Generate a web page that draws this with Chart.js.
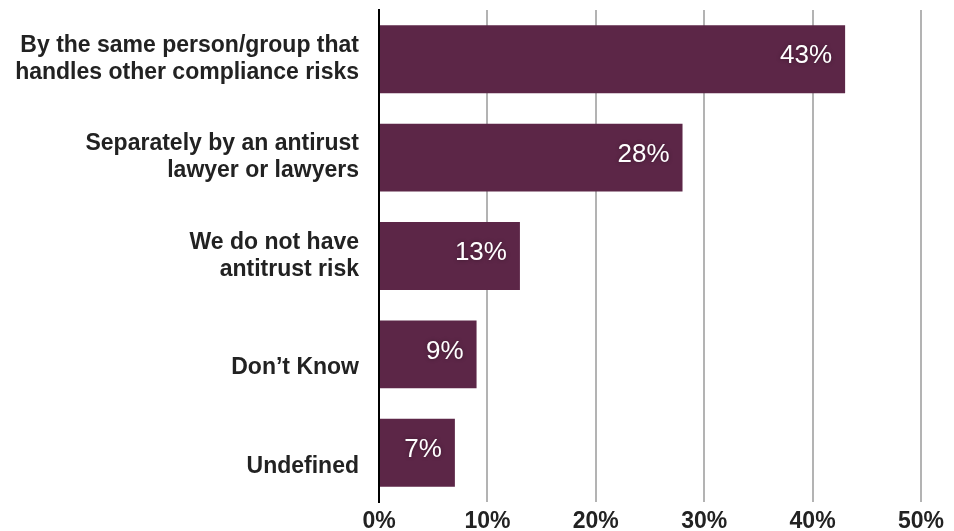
<!DOCTYPE html>
<html>
<head>
<meta charset="utf-8">
<script src="https://cdn.jsdelivr.net/npm/chart.js@4"></script>
<style>
  html, body { margin: 0; padding: 0; background: #fff; }
  #wrap { width: 954px; height: 531px; }
</style>
</head>
<body>
<div id="wrap"><canvas id="myChart"></canvas></div>
<script>
// single-line labels sit on the lower line of a two-line box
const categories = [
    ['By the same person/group that', 'handles other compliance risks'],
    ['Separately by an antirust', 'lawyer or lawyers'],
    ['We do not have', 'antitrust risk'],
    ['', 'Don\u2019t Know'],
    ['', 'Undefined']
];
const shares = [43, 28, 13, 9, 7];
const xTicks = [0, 10, 20, 30, 40, 50];

const barColor = '#5c2647';
const textColor = '#222222';
const fontFamily = '"Liberation Sans", Arial, sans-serif';

// white value labels near the end of each bar
const valueLabels = {
    id: 'valueLabels',
    afterDatasetsDraw(chart) {
        const ctx = chart.ctx;
        const meta = chart.getDatasetMeta(0);
        ctx.save();
        ctx.fillStyle = '#ffffff';
        ctx.font = '26px ' + fontFamily;
        ctx.textAlign = 'right';
        ctx.textBaseline = 'middle';
        ctx.shadowColor = 'rgba(0, 0, 0, 0.35)';
        ctx.shadowBlur = 4;
        meta.data.forEach((bar, i) => {
            ctx.fillText(shares[i] + '%', bar.x - 13, bar.y - 3);
        });
        ctx.restore();
    }
};

const ctx = document.getElementById('myChart').getContext('2d');
const myChart = new Chart(ctx, {
    type: 'bar',
    data: {
        labels: categories,
        datasets: [{
            data: shares,
            backgroundColor: barColor,
            borderWidth: 0,
            barPercentage: 0.69,
            categoryPercentage: 1
        }]
    },
    options: {
        indexAxis: 'y',
        responsive: true,
        maintainAspectRatio: false,
        animation: false,
        layout: { padding: { top: 10, right: 33, bottom: 0, left: 0 } },
        plugins: {
            legend: { display: false },
            tooltip: { enabled: false }
        },
        scales: {
            x: {
                min: 0,
                max: 50,
                afterBuildTicks(scale) {
                    scale.ticks = xTicks.map(v => ({ value: v }));
                },
                afterFit(scale) {
                    scale.height = 29;
                },
                grid: {
                    color: '#b3b3b3',
                    lineWidth: 2,
                    drawTicks: false
                },
                border: { display: false },
                ticks: {
                    color: textColor,
                    padding: 6,
                    font: { family: fontFamily, size: 23, weight: 'bold' },
                    callback: v => v + '%'
                }
            },
            y: {
                afterFit(scale) {
                    scale.width = 379;
                    scale.paddingTop = 0;
                    scale.paddingBottom = 0;
                },
                grid: { display: false, drawTicks: false },
                border: { display: true, color: '#000000', width: 2 },
                ticks: {
                    color: textColor,
                    padding: 20,
                    font: { family: fontFamily, size: 23, weight: 'bold', lineHeight: 1.17 }
                }
            }
        }
    },
    plugins: [valueLabels]
});
</script>
</body>
</html>
